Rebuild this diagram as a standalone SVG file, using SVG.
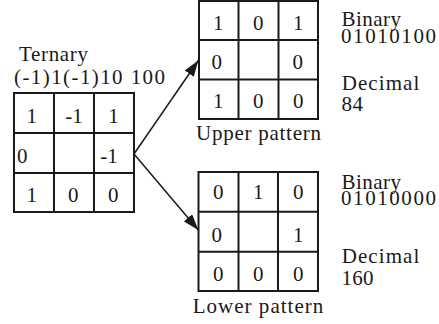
<svg xmlns="http://www.w3.org/2000/svg" width="439" height="324" viewBox="0 0 439 324">
<style>
text{font-family:"Liberation Serif","Times New Roman",serif;font-size:21px;fill:#1a1a1a}
.c{text-anchor:middle}
.g{fill:none;stroke:#1a1a1a;stroke-width:2}
.a{stroke:#1a1a1a;stroke-width:1.5;fill:none}
</style>
<defs>
<marker id="ah" markerUnits="userSpaceOnUse" markerWidth="17" markerHeight="11" refX="16" refY="5.5" orient="auto">
<path d="M0,0 L16,5.5 L0,11 z" fill="#1a1a1a"/>
</marker>
</defs>
<rect width="439" height="324" fill="#fff"/>

<g id="ternary">
<text x="19" y="61" textLength="69" lengthAdjust="spacing">Ternary</text>
<text x="14" y="84" textLength="151" lengthAdjust="spacing">(-1)1(-1)10 100</text>
<rect class="g" x="14" y="93" width="120" height="119"/>
<path class="g" d="M54,93V212M94,93V212M14,133H134M14,173H134"/>
<text class="c" x="31.7" y="123">1</text>
<text class="c" x="74" y="123">-1</text>
<text class="c" x="113.5" y="123">1</text>
<text class="c" x="22.2" y="162.5">0</text>
<text class="c" x="109" y="162.5">-1</text>
<text class="c" x="31.7" y="201.5">1</text>
<text class="c" x="73.3" y="201.5">0</text>
<text class="c" x="113.3" y="201.5">0</text>
</g>

<g id="upper">
<rect class="g" x="199" y="1" width="119" height="118"/>
<path class="g" d="M238.5,1V119M278.5,1V119M199,40H318M199,79.5H318"/>
<text class="c" x="218.3" y="29.5">1</text>
<text class="c" x="258.3" y="29.5">0</text>
<text class="c" x="298.3" y="29.5">1</text>
<text class="c" x="216.7" y="68.5">0</text>
<text class="c" x="297.7" y="68.5">0</text>
<text class="c" x="218.3" y="107.5">1</text>
<text class="c" x="258.3" y="107.5">0</text>
<text class="c" x="298.3" y="107.5">0</text>
<text x="196" y="140" textLength="125" lengthAdjust="spacing">Upper pattern</text>
<text x="341.5" y="26" textLength="59.5" lengthAdjust="spacing">Binary</text>
<text x="341" y="43" textLength="95" lengthAdjust="spacing">01010100</text>
<text x="341.7" y="89.5" textLength="77.6" lengthAdjust="spacing">Decimal</text>
<text x="341.5" y="110.5" textLength="21.5" lengthAdjust="spacing">84</text>
</g>

<g id="lower">
<rect class="g" x="198.5" y="172" width="119.5" height="119"/>
<path class="g" d="M238.5,172V291M278,172V291M198.5,211.7H318M198.5,251.7H318"/>
<text class="c" x="218.3" y="198.5">0</text>
<text class="c" x="258.3" y="198.5">1</text>
<text class="c" x="298.3" y="198.5">0</text>
<text class="c" x="216.7" y="241.5">0</text>
<text class="c" x="298.3" y="241.5">1</text>
<text class="c" x="218.3" y="280.7">0</text>
<text class="c" x="258.3" y="280.7">0</text>
<text class="c" x="298.3" y="280.7">0</text>
<text x="192.7" y="313.3" textLength="130.6" lengthAdjust="spacing">Lower pattern</text>
<text x="341.5" y="188.5" textLength="59.5" lengthAdjust="spacing">Binary</text>
<text x="341" y="205" textLength="95" lengthAdjust="spacing">01010000</text>
<text x="341.7" y="263.3" textLength="77.6" lengthAdjust="spacing">Decimal</text>
<text x="341.5" y="285" textLength="32" lengthAdjust="spacing">160</text>
</g>

<g id="connectors">
<line class="a" x1="134" y1="154" x2="198.3" y2="60.5" marker-end="url(#ah)"/>
<line class="a" x1="134" y1="154" x2="198.3" y2="230" marker-end="url(#ah)"/>
</g>
</svg>
